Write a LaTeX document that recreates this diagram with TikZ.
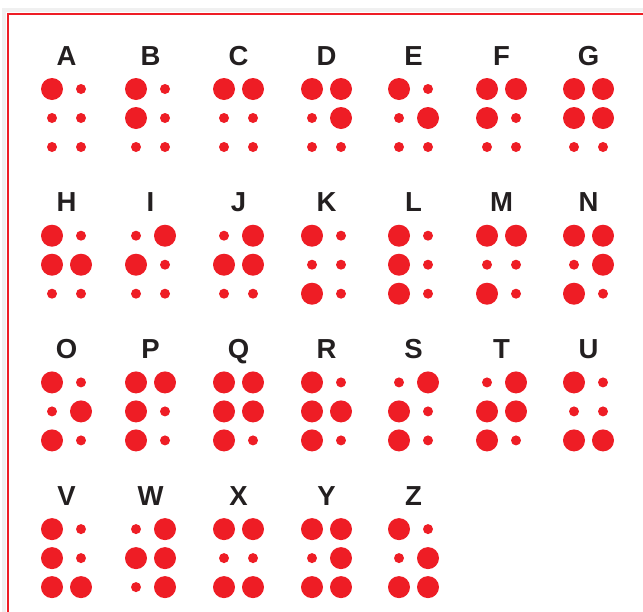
\documentclass[tikz,border=0pt]{standalone}
\usepackage{fontspec}
\setmainfont{Liberation Sans}[BoldFont={Liberation Sans Bold}]
\usepackage{tikz}
\definecolor{brred}{HTML}{EE1D25}
\definecolor{ink}{HTML}{231F20}
\tikzset{
    letter/.style={font=\bfseries\fontsize{27.5}{27.5}\selectfont, text=ink, inner sep=0pt, anchor=base},
    dotfill/.style={fill=brred},
    frame/.style={draw=brred, line width=2.2pt}
}
% radius of a dot: 1 = raised, 0 = flat
\newcommand\brad[1]{\ifnum#1=1 11\else 5\fi}
% six dots of one cell, read as 1 2 3 4 5 6 (left column, then right)
\newcommand\bdots[6]{%
    \fill[dotfill] (\bx,\by)         circle [radius=\brad{#1}];
    \fill[dotfill] (\bx,\by+29)      circle [radius=\brad{#2}];
    \fill[dotfill] (\bx,\by+58)      circle [radius=\brad{#3}];
    \fill[dotfill] (\bx+29,\by)      circle [radius=\brad{#4}];
    \fill[dotfill] (\bx+29,\by+29)   circle [radius=\brad{#5}];
    \fill[dotfill] (\bx+29,\by+58)   circle [radius=\brad{#6}];
}
\begin{document}
\begin{tikzpicture}[x=1pt,y=-1pt]
    \useasboundingbox (0,0) rectangle (643,611);

    % Frame with soft shadow
    \draw[gray!12, line width=4pt] (4,620) -- (4,10) -- (650,10);
    \draw[frame] (8,620) -- (8,14) -- (650,14);

    % The alphabet, cell by cell
    \foreach \ch/\c/\r/\p in {
        A/0/0/100000, B/1/0/110000, C/2/0/100100, D/3/0/100110,
        E/4/0/100010, F/5/0/110100, G/6/0/110110,
        H/0/1/110010, I/1/1/010100, J/2/1/010110, K/3/1/101000,
        L/4/1/111000, M/5/1/101100, N/6/1/101110,
        O/0/2/101010, P/1/2/111100, Q/2/2/111110, R/3/2/111010,
        S/4/2/011100, T/5/2/011110, U/6/2/101001,
        V/0/3/111001, W/1/3/010111, X/2/3/101101, Y/3/3/101111,
        Z/4/3/101011}
    {
        \pgfmathsetmacro\bx{{52,136,224,312,399,487,574}[\c]}
        \pgfmathsetmacro\by{89+146.7*\r}
        \node[letter] (\ch) at (\bx+14.5,\by-24) {\ch};
        \expandafter\bdots\p
    }
\end{tikzpicture}
\end{document}
